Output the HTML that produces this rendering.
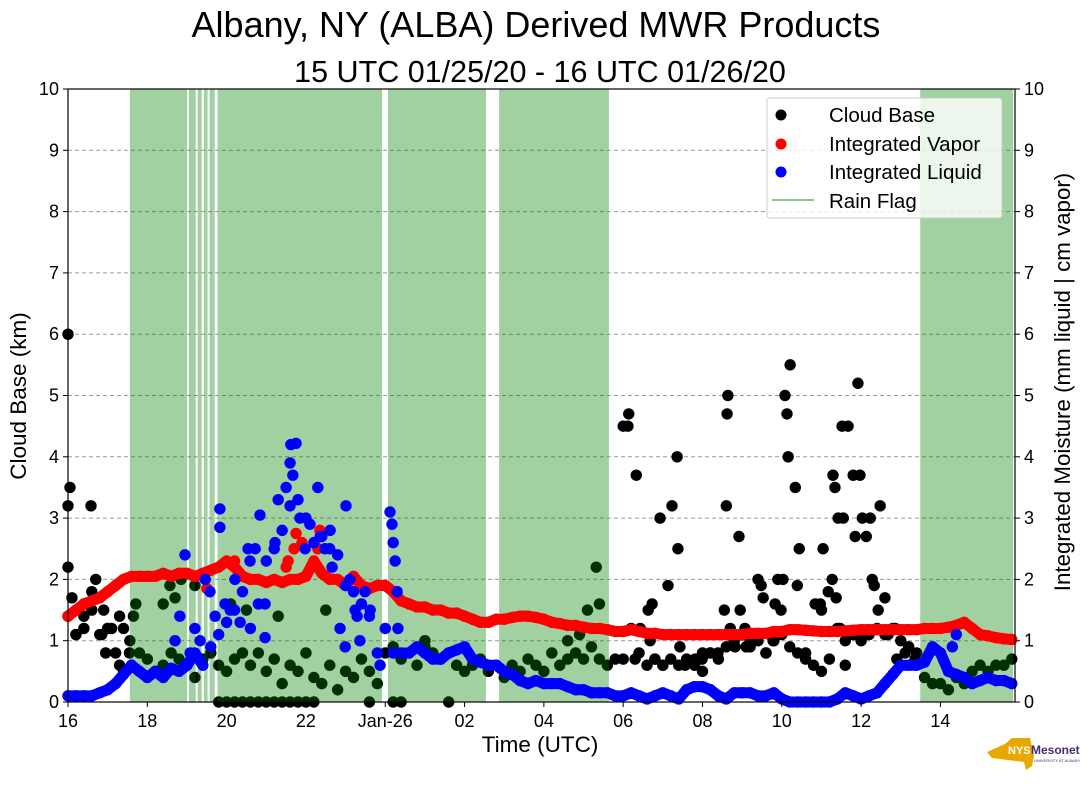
<!DOCTYPE html>
<html><head><meta charset="utf-8"><style>
body{margin:0;background:#fff;width:1089px;height:804px;overflow:hidden;font-family:"Liberation Sans",sans-serif}
</style></head><body>
<svg id="c" width="1089" height="804" xmlns="http://www.w3.org/2000/svg" font-family="Liberation Sans, sans-serif">
<text x="536" y="37" font-size="36" text-anchor="middle">Albany, NY (ALBA) Derived MWR Products</text>
<text x="540" y="82" font-size="30.5" text-anchor="middle">15 UTC 01/25/20 - 16 UTC 01/26/20</text>
<text x="540" y="752" font-size="22.5" text-anchor="middle">Time (UTC)</text>
<text transform="translate(26,396) rotate(-90)" font-size="22.5" text-anchor="middle">Cloud Base (km)</text>
<text transform="translate(1070,382) rotate(-90)" font-size="22.3" text-anchor="middle">Integrated Moisture (mm liquid | cm vapor)</text>
<g id="grid"></g><g id="cloud"></g><g id="rain"></g><g id="vap"></g><g id="liq"></g><g id="axes"></g>
<g>
<rect x="767" y="98" width="235" height="120" rx="3" fill="#fff" fill-opacity="0.8" stroke="#ccc"/>
<circle cx="781" cy="115" r="5.5" fill="#000"/><text x="829" y="122" font-size="20.5">Cloud Base</text>
<circle cx="781" cy="144" r="5.5" fill="#f00"/><text x="829" y="151" font-size="20.5">Integrated Vapor</text>
<circle cx="781" cy="172" r="5.5" fill="#00f"/><text x="829" y="179" font-size="20.5">Integrated Liquid</text>
<line x1="772" y1="200" x2="814" y2="200" stroke="#5cb85c" stroke-width="1.5"/><text x="829" y="208" font-size="20.5">Rain Flag</text>
</g>
<g>
<polygon points="987,752 1005,744 1012,738 1030,738 1034,756 1032,766 1026,770 1024,762 1008,760 992,758" fill="#e8a800"/>
<text x="1008" y="754" font-size="11" font-weight="bold" fill="#fff">NYS</text>
<text x="1031" y="754" font-size="12" font-weight="bold" fill="#4a2a6a">Mesonet</text>
<text x="1034" y="762" font-size="4" fill="#4a2a6a">UNIVERSITY AT ALBANY</text>
</g>
</svg>
<script>
const rainSpans=[[1.56,3.0],[3.05,3.22],[3.27,3.37],[3.43,3.52],[3.57,3.7],[3.77,7.92],[8.07,10.54],[10.87,13.64],[21.49,23.83]];
const step=0.2;
const vapor=[1.4,1.5,1.6,1.65,1.7,1.8,1.9,2.0,2.05,2.05,2.05,2.05,2.1,2.05,2.1,2.1,2.05,2.1,2.15,2.2,2.3,2.2,2.05,2.0,2.0,1.95,2.0,1.95,2.0,2.0,2.05,2.3,2.1,2.0,2.0,1.9,2.05,1.9,1.85,1.9,1.9,1.8,1.65,1.6,1.55,1.55,1.5,1.5,1.45,1.45,1.4,1.35,1.3,1.3,1.35,1.35,1.38,1.4,1.4,1.38,1.35,1.3,1.28,1.25,1.25,1.22,1.2,1.2,1.18,1.15,1.15,1.18,1.15,1.12,1.12,1.1,1.1,1.1,1.1,1.1,1.1,1.1,1.1,1.1,1.1,1.1,1.12,1.12,1.12,1.15,1.15,1.18,1.18,1.17,1.16,1.15,1.15,1.15,1.16,1.17,1.18,1.18,1.18,1.18,1.18,1.18,1.18,1.18,1.2,1.2,1.2,1.22,1.25,1.3,1.2,1.1,1.08,1.05,1.03,1.02];
const vapExtraT=[5.55,5.7,5.75,5.9,6.3,6.35,4.2,3.5,5.5];
const vapExtraV=[2.3,2.5,2.75,2.6,2.5,2.8,2.3,1.85,2.2];
const liquid=[0.1,0.1,0.1,0.1,0.15,0.2,0.3,0.45,0.6,0.5,0.4,0.5,0.4,0.55,0.5,0.6,0.8,0.6,0.9,1.1,1.3,1.5,1.8,1.2,1.6,2.3,2.5,2.8,3.2,3.3,3.0,2.6,2.7,2.5,2.4,1.9,1.8,1.6,1.4,0.8,1.2,0.8,0.8,0.8,0.9,0.8,0.7,0.7,0.8,0.85,0.9,0.7,0.65,0.6,0.6,0.5,0.45,0.35,0.3,0.35,0.3,0.3,0.3,0.25,0.2,0.2,0.15,0.15,0.15,0.1,0.1,0.15,0.1,0.05,0.1,0.15,0.1,0.05,0.2,0.25,0.25,0.2,0.1,0.05,0.15,0.15,0.15,0.1,0.1,0.15,0.05,0,0,0,0,0,0,0.05,0.15,0.1,0.05,0.1,0.15,0.3,0.45,0.6,0.6,0.6,0.65,0.9,0.8,0.5,0.45,0.4,0.3,0.35,0.4,0.35,0.35,0.3];
const liqExtraT=[5.62,5.75,5.6,5.67,5.5,5.3,6.3,7.01,6.61,3.83,3.83,2.95,4.54,4.84,5.22,4.97,4.97,6.86,6.99,7.36,7.29,7.11,3.46,3.58,3.71,3.96,4.09,4.21,4.34,4.59,4.72,5.85,5.98,6.1,6.36,6.48,6.66,7.24,7.49,7.87,8.12,8.17,8.2,8.25,8.3,8.32,2.82,2.7,3.2,3.33,3.08,7.62,22.3,22.4];
const liqExtraV=[4.2,4.22,3.9,3.7,3.5,3.3,3.5,3.2,2.8,3.15,2.85,2.4,2.5,3.05,2.6,1.6,1.05,1.2,0.9,1.0,1.4,2.0,2.0,1.8,1.4,1.6,1.5,2.0,1.3,2.3,2.5,3.0,2.5,2.9,2.7,2.5,2.2,1.5,1.8,0.6,3.1,2.9,2.6,2.3,1.8,1.2,1.4,1.0,1.2,1.0,0.8,1.5,0.9,1.1];
const cloudLow=[1.4,1.1,1.2,1.5,1.1,1.2,0.8,0.5,0.6,0.8,0.7,0.5,0.6,0.8,0.7,0.6,0.4,0.7,0.8,0.6,0.5,0.7,0.8,0.6,0.8,0.5,0.7,0.3,0.6,0.5,0.8,0.4,0.3,0.6,0.2,0.5,0.4,0.7,0.5,0.3,0.8,0.9,0.7,0.8,0.6,0.9,0.8,0.7,0.8,0.6,0.5,0.6,0.7,0.5,0.6,0.4,0.6,0.5,0.7,0.6,0.5,0.8,0.6,0.7,0.8,0.7,0.9,0.7,0.6,0.7,0.7,1.2,0.8,0.6,0.7,0.6,0.7,0.6,0.7,0.6,0.8,0.8,0.7,0.9,1.0,1.1,0.9,1.0,0.8,1.0,1.1,0.9,0.8,0.7,0.6,0.5,0.7,1.2,1.0,1.1,1.0,1.1,1.2,1.1,1.2,1.0,0.9,0.8,0.4,0.3,0.3,0.2,0.4,0.3,0.5,0.6,0.5,0.6,0.6,0.7];
const cloudT=[0,0,0.05,0,0.58,0.7,0.1,0.4,0.2,0.6,0.9,1.0,0.85,0.95,1.3,1.45,1.55,1.1,1.3,1.4,
3.8,4.0,4.2,4.4,4.6,4.8,5.0,5.2,5.4,5.6,5.8,6.0,6.2,7.6,8.2,8.4,9.6,1.56,1.65,1.71,2.4,2.57,2.7,2.85,3.2,4.1,4.5,5.3,6.5,13.32,13.1,13.4,12.9,12.6,9.0,
14.0,14.12,14.14,14.33,14.43,14.63,14.68,14.73,14.8,14.93,15.13,15.23,15.36,15.38,15.43,15.56,15.81,15.99,16.19,16.39,16.55,16.62,16.64,16.6,16.7,16.82,16.92,16.95,17.0,17.07,17.2,17.28,17.4,17.48,17.53,17.6,17.7,17.78,17.83,17.9,17.98,18.03,18.08,18.13,18.16,18.21,18.34,18.39,18.44,18.84,18.97,19.0,19.04,19.17,19.27,19.29,19.34,19.37,19.42,19.47,19.52,19.55,19.67,19.8,19.85,19.92,19.97,20.03,20.13,20.23,20.28,20.33,20.43,20.48,20.6,20.68,20.86,21.11,21.36,14.3,15.0,16.0,17.1,18.6,19.6,20.9];
const cloudV=[6.0,3.2,3.5,2.2,3.2,2.0,1.7,1.4,1.1,1.8,1.5,1.2,1.1,0.8,0.6,0.5,0.8,1.2,1.4,1.2,
0,0,0,0,0,0,0,0,0,0,0,0,0,0,0,0,0,1.0,1.4,1.6,1.6,1.9,1.7,2.0,1.9,1.6,1.5,1.4,1.5,2.2,1.5,1.6,1.1,1.0,1.0,
4.5,4.5,4.7,3.7,1.2,1.5,1.0,1.6,0.7,3.0,1.9,3.2,4.0,2.5,0.9,0.6,0.7,0.7,0.8,0.8,1.5,4.7,5.0,3.2,1.2,0.9,2.7,1.5,1.1,1.2,1.0,1.1,2.0,1.9,1.7,0.8,1.1,1.0,1.6,2.0,1.5,2.0,5.0,4.7,4.0,5.5,3.5,1.9,2.5,1.6,1.6,1.5,2.5,1.8,2.0,3.7,3.5,1.7,3.0,1.2,4.5,3.0,4.5,3.7,2.7,5.2,3.7,3.0,2.7,3.0,2.0,1.9,1.5,3.2,1.7,1.1,1.2,0.8,0.7,0.7,0.6,0.5,0.9,0.8,0.6,0.7,0.9,0.7];
const xTicks=[0,2,4,6,8,10,12,14,16,18,20,22];
const xTickLabels=["16","18","20","22","Jan-26","02","04","06","08","10","12","14"];
const yTicks=[0,1,2,3,4,5,6,7,8,9,10];

const L=68,R=1015,T=89,B=702,HMAX=23.88;
const X=h=>L+h*(R-L)/HMAX, Y=v=>B-v*(B-T)/10;
const NS="http://www.w3.org/2000/svg";
function mk(tag,parent,attrs){const e=document.createElementNS(NS,tag);for(const k in attrs)e.setAttribute(k,attrs[k]);document.getElementById(parent).appendChild(e);return e;}
yTicks.forEach(v=>{if(v>0&&v<10){const g=mk('line','grid',{x1:L,x2:R,y1:Y(v),y2:Y(v),stroke:'#999','stroke-dasharray':'4,3','stroke-width':1});

}});
function dot(parent,h,v,col,name){const c=mk('circle',parent,{cx:X(h),cy:Y(v),r:5.7,fill:col});

}
function band(parent,vals,i0,i1,col,name){const pts=[];for(let i=i0;i<=i1&&i<vals.length;i++)pts.push(X(i*step)+','+Y(vals[i]));
const p=mk('polyline',parent,{points:pts.join(' '),fill:'none',stroke:col,'stroke-width':11,'stroke-linejoin':'round','stroke-linecap':'round'});

}
cloudLow.forEach((v,i)=>dot('cloud',i*step,v,'#000','cloud-base-point'));
cloudT.forEach((h,i)=>dot('cloud',h,cloudV[i],'#000','cloud-base-point'));
rainSpans.forEach(s=>{const r=mk('rect','rain',{x:X(s[0]),y:T,width:X(s[1])-X(s[0]),height:B-T,fill:'rgb(0,130,0)','fill-opacity':0.37});

});
band('vap',vapor,0,vapor.length-1,'#f00','vapor-band');
vapor.forEach((v,i)=>dot('vap',i*step,v,'#f00','vapor-point'));
vapExtraT.forEach((h,i)=>dot('vap',h,vapExtraV[i],'#f00','vapor-point'));
band('liq',liquid,0,17,'#00f','liquid-band');
band('liq',liquid,42,liquid.length-1,'#00f','liquid-band');
liquid.forEach((v,i)=>dot('liq',i*step,v,'#00f','liquid-point'));
liqExtraT.forEach((h,i)=>dot('liq',h,liqExtraV[i],'#00f','liquid-point'));
mk('rect','axes',{x:L,y:T,width:R-L,height:B-T,fill:'none',stroke:'#000','stroke-width':1.2});
yTicks.forEach(v=>{
mk('line','axes',{x1:L-5,x2:L,y1:Y(v),y2:Y(v),stroke:'#000'});
mk('line','axes',{x1:R,x2:R+5,y1:Y(v),y2:Y(v),stroke:'#000'});
const a=mk('text','axes',{x:L-9,y:Y(v)+6,'font-size':18,'text-anchor':'end'});a.textContent=v;


const b=mk('text','axes',{x:R+9,y:Y(v)+6,'font-size':18});b.textContent=v;

});
xTicks.forEach((h,i)=>{mk('line','axes',{x1:X(h),x2:X(h),y1:B,y2:B+5,stroke:'#000'});
const t=mk('text','axes',{x:X(h),y:B+25,'font-size':18,'text-anchor':'middle'});t.textContent=xTickLabels[i];

});
</script>
</body></html>
